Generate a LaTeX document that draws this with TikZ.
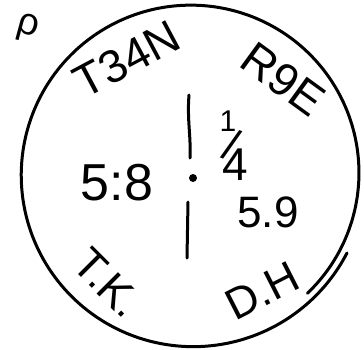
\documentclass[tikz,border=0pt]{standalone}
\usepackage{fontspec}
\setmainfont{Liberation Sans}
\begin{document}
\begin{tikzpicture}[
  x=1pt, y=-1pt,
  ink/.style={line width=3pt, line cap=round, line join=round},
  hand/.style={inner sep=0pt, font=\fontsize{44}{44}\selectfont},
  big/.style={inner sep=0pt, font=\fontsize{52}{52}\selectfont},
  small/.style={inner sep=0pt, font=\fontsize{30}{30}\selectfont}
]
\useasboundingbox (0,0) rectangle (364,349);
% hand drawn ring, its two ends overlap at the lower right
\draw[ink] plot[smooth, domain=-333:46, samples=90]
  ({192+(174-(\x+333)*8/379)*cos(\x)}, {174+(174-(\x+333)*8/379)*sin(\x)});

% centre mark
\draw[ink] (189,95) .. controls (187,120) and (191,135) .. (190,158);
\fill (193,178) circle (4);
\draw[ink] (188,202) -- (187,258);

\node[small, font=\fontsize{38}{38}\selectfont, rotate=-15] (pee) at (28,28) {ρ};
\node[hand, font=\fontsize{46}{46}\selectfont, rotate=28] (twp) at (127,59) {T34N};
\node[hand, font=\fontsize{46}{46}\selectfont, rotate=-36] (rng) at (283,79) {R9E};

\node[small] (num) at (228,121) {1};
\node[hand, rotate=-20] (bar) at (232,145) {/};
\node[hand, font=\fontsize{46}{46}\selectfont] (den) at (235,165) {4};

\node[big] (west) at (117,183) {5:8};
\node[hand] (east) at (268,212) {5.9};
\node[hand, rotate=-45] (tk) at (108,283) {T.K.};
\node[hand, rotate=27] (dh) at (262,291) {D.H};
\end{tikzpicture}
\end{document}
